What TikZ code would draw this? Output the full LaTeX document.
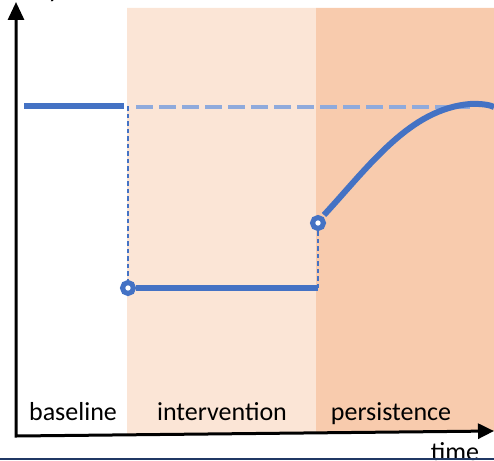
\documentclass[tikz,border=0pt]{standalone}
\usepackage{fontspec}
\setmainfont{Carlito}
\usetikzlibrary{arrows.meta}
\definecolor{peachlight}{HTML}{FBE5D6}
\definecolor{peachdark}{HTML}{F8CBAD}
\definecolor{lineblue}{HTML}{4472C4}
\definecolor{dashblue}{HTML}{8FAADC}
\definecolor{navyrule}{HTML}{203864}

\begin{document}
\begin{tikzpicture}[x=1pt,y=-1pt,
  phase/.style={font=\fontsize{26}{30}\selectfont, anchor=base, inner sep=0pt},
  trend/.style={lineblue, line width=6pt},
  reference/.style={dashblue, line width=4pt, dash pattern=on 17pt off 6pt},
  guide/.style={lineblue, line width=1.6pt, dash pattern=on 4.5pt off 3pt},
  marker/.style={circle, draw=lineblue, line width=5pt, fill=white,
                 minimum size=11pt, inner sep=0pt},
  axis/.style={line width=3pt, line join=miter,
               {Triangle[length=18pt,width=16pt]}-{Triangle[length=16pt,width=15pt]}}]
\useasboundingbox (0,0) rectangle (494,460);
\clip (0,0) rectangle (494,460);

% axis geometry
\coordinate (origin) at (16,436);
\coordinate (ytip) at (16,2);
\coordinate (xtip) at (494,431);

% phase backgrounds
\fill[peachlight] (127,8) -- (316,8) -- (316,433.4) -- (127,434.4) -- cycle;
\fill[peachdark]  (316,8) -- (494,8) -- (494,431) -- (316,433.4) -- cycle;

% phase labels
\node[phase] (lbase)  at (73,420)  {baseline};
\node[phase] (lint)   at (222,420) {intervention};
\node[phase] (lpers)  at (391,420) {persistence};

% level markers
\node[marker] (m1) at (128,288) {};
\node[marker] (m2) at (318,223) {};

% baseline level and its dashed continuation
\coordinate (b0) at (24,106);
\coordinate (b1) at (124,106);
\coordinate (r0) at (136,107);
\coordinate (r1) at (470,107);
\draw[trend] (b0) -- (b1);
\draw[reference] (r0) -- (r1);

% vertical guides
\coordinate (g1) at (128,106);
\coordinate (g2) at (318,288);
\draw[guide] (g1) -- (m1.north);
\draw[guide] (g2) -- (m2.south);

% intervention level
\draw[trend] (m1.east) -- (g2);

% recovery during persistence
\coordinate (c0) at (324,215);
\coordinate (c1) at (470,104);
\coordinate (c2) at (494,107);
\draw[trend] (c0) .. controls (370,165) and (410,109) .. (c1)
             .. controls (482,103.5) and (490,105) .. (c2);

% axes
\draw[axis] (ytip) -- (origin) -- (xtip);
\node[phase] (ylab) at (54,-2.5) {y};
\node[phase] (tlab) at (455,460) {time};

% bottom rule
\coordinate (n0) at (0,458.5);
\coordinate (n1) at (494,458.5);
\draw[navyrule, line width=2pt] (n0) -- (n1);
\end{tikzpicture}
\end{document}
